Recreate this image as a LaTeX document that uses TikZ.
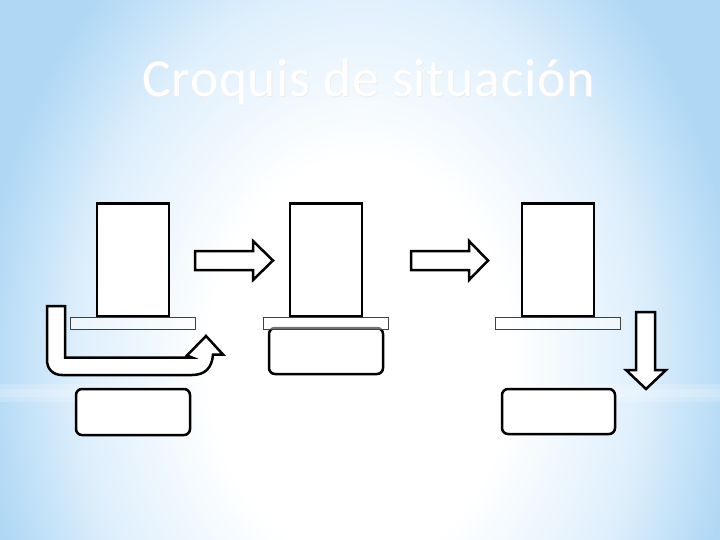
\documentclass[tikz,border=0pt]{standalone}
\usepackage{fontspec}
\usepackage{tikz}
\newfontfamily\titlefont[LetterSpace=1.5]{Carlito}
\definecolor{bgblue}{RGB}{176,216,245}
\definecolor{bglight}{RGB}{222,239,252}
\pgfdeclareradialshading{glow}{\pgfpointorigin}{color(0bp)=(white); color(7bp)=(white); color(13bp)=(bglight); color(17.5bp)=(bgblue); color(50bp)=(bgblue)}

\begin{document}
\begin{tikzpicture}[x=1pt, y=-1pt,
    post/.style={draw, line width=2.5pt, fill=white, minimum width=72pt, minimum height=112pt, inner sep=0pt},
    plate/.style={draw=black!75, line width=0.8pt, fill=white, fill opacity=0.45, minimum width=125pt, minimum height=12pt, inner sep=0pt},
    pad/.style={draw, line width=2.5pt, fill=white, rounded corners=6pt, minimum width=114pt, minimum height=46pt, inner sep=0pt},
    bigarrow/.style={draw, line width=2.5pt, fill=white, line join=miter},
    heading/.style={anchor=base, inner sep=0pt, font=\titlefont\fontsize{53.5}{60}\selectfont}]
    \useasboundingbox (0, 0) rectangle (720, 540);
    % background
    \begin{scope}
        \clip (0, 0) rectangle (720, 540);
        \fill [bgblue] (0, 0) rectangle (720, 540);
        \shade [shading=glow] (-180, -360) rectangle (900, 1080);
        \fill [white, opacity=0.2] (0, 384) rectangle (720, 402);
        \fill [white, opacity=0.15] (0, 389) rectangle (720, 397);
    \end{scope}
    \node [heading, black!7] (shadow) at (369, 98) {Croquis de situación};
    \node [heading, white] (title) at (368.5, 97) {Croquis de situación};
    % pads
    \node [pad] (padA) at (133, 412) {};
    \node [pad] (padB) at (326, 351) {};
    \node [pad, minimum width=113pt, minimum height=45pt] (padC) at (558.5, 411.5) {};
    % plates and posts
    \node [plate] (plateA) at (132.5, 323.3) {};
    \node [plate] (plateB) at (325.8, 323.3) {};
    \node [plate] (plateC) at (558.2, 323.3) {};
    \node [post, anchor=south] (postA) at (133, 317) {};
    \node [post, anchor=south] (postB) at (326, 317) {};
    \node [post, anchor=south] (postC) at (558, 317) {};
    % arrows
    \draw [bigarrow] (195, 251) -- (253, 251) -- (253, 241) -- (273, 260.5) -- (253, 280) -- (253, 270) -- (195, 270) -- cycle;
    \draw [bigarrow] (411, 251) -- (469, 251) -- (469, 241) -- (488, 260.5) -- (469, 280) -- (469, 270) -- (411, 270) -- cycle;
    \draw [bigarrow] (636, 312) -- (655, 312) -- (655, 370) -- (666, 370) -- (646, 389) -- (626, 370) -- (636, 370) -- cycle;
    \draw [bigarrow] (47, 306) -- (65, 306) -- (65, 357.5) -- (192, 357.5) -- (187, 355.5) -- (206, 336) -- (223, 354.5) -- (213, 354.5)
        .. controls (212, 368) and (205, 375) .. (192, 375) -- (62, 375) .. controls (53, 375) and (47, 369) .. (47, 360) -- cycle;
\end{tikzpicture}
\end{document}
